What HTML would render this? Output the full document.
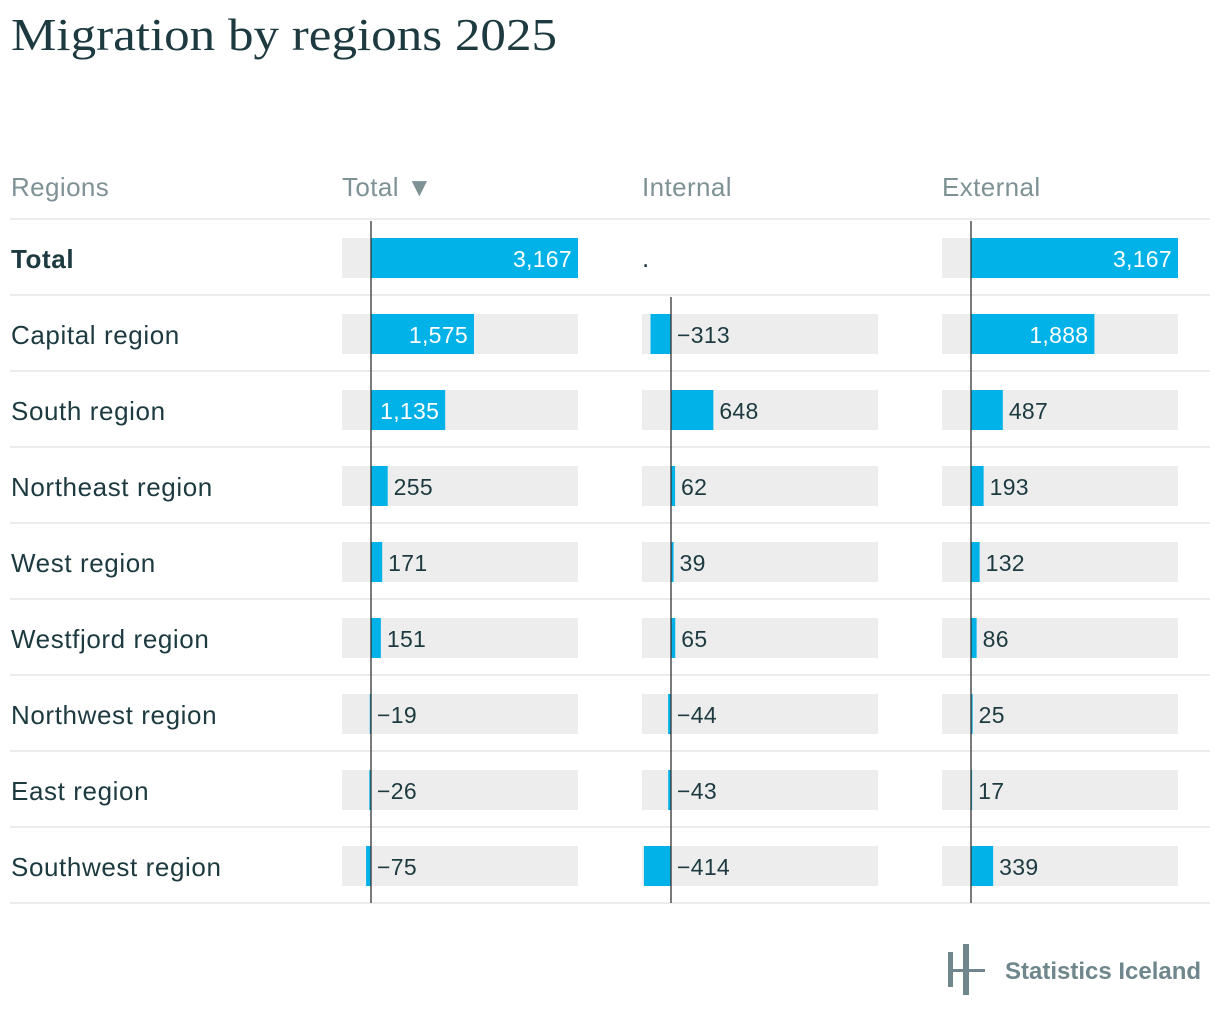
<!DOCTYPE html>
<html><head><meta charset="utf-8">
<style>
body{margin:0;width:1220px;height:1020px;background:#fff;font-family:"Liberation Sans",sans-serif;overflow:hidden;position:relative}
h1{position:absolute;left:11px;top:8px;margin:0;font-family:"Liberation Serif",serif;font-weight:normal;font-size:46px;color:#1d3a40;transform:scaleX(1.11);transform-origin:0 0;white-space:nowrap}
svg{position:absolute;left:0;top:0}
</style></head><body>
<h1>Migration by regions 2025</h1>
<svg id="c" width="1220" height="1020"></svg>
<script>
const regions=["Total","Capital region","South region","Northeast region","West region","Westfjord region","Northwest region","East region","Southwest region"];
const totalVals=[3167,1575,1135,255,171,151,-19,-26,-75];
const internalVals=[null,-313,648,62,39,65,-44,-43,-414];
const externalVals=[3167,1888,487,193,132,86,25,17,339];
const headers=["Regions","Total ▼","Internal","External"];
const NS="http://www.w3.org/2000/svg";
const svg=document.getElementById('c');
function mk(t,a,p){const e=document.createElementNS(NS,t);for(const k in a)e.setAttribute(k,a[k]);(p||svg).appendChild(e);return e;}
const scale=207/3167;
const cols=[{x:342,zero:371,vals:totalVals},{x:642,zero:671,vals:internalVals},{x:942,zero:971,vals:externalVals}];
const rowY=i=>219+76*i;
const fmt=v=>(v<0?"−":"")+Math.abs(v).toLocaleString("en-US");
[11,342,642,942].forEach((x,i)=>{
 const t=mk('text',{x:x,y:196,'font-size':26,fill:'#7e9296','letter-spacing':0.4});t.textContent=headers[i];
 
 
});
for(let i=0;i<=regions.length;i++){
 const l=mk('line',{x1:10,x2:1210,y1:rowY(i),y2:rowY(i),stroke:'#e6e6e6','stroke-width':1.5});
 
 
}
regions.forEach((r,i)=>{
 const cy=rowY(i)+38;
 const t=mk('text',{x:11,y:cy+11,'font-size':26,fill:'#1d3a40','font-weight':i==0?'bold':'normal','letter-spacing':0.6});
 t.textContent=r;
 
 
 cols.forEach((c,ci)=>{
  const v=c.vals[i];
  if(v===null){const d=mk('text',{x:c.x,y:cy+10,'font-size':26,fill:'#1d3a40'});d.textContent='.';
   return;}
  const bg=mk('rect',{x:c.x,y:cy-19,width:236,height:40,fill:'#ededed'});
  
  
  const w=Math.abs(v)*scale;
  const bx=v>=0?c.zero:c.zero-w;
  const b=mk('rect',{x:bx,y:cy-19,width:w,height:40,fill:'#00b2e8'});
  
  
  let lab;
  if(v>0&&w>60){lab=mk('text',{x:c.zero+w-6,y:cy+10,'font-size':23,fill:'#fff','text-anchor':'end','letter-spacing':0.3});}
  else{lab=mk('text',{x:(v>=0?c.zero+w:c.zero)+6,y:cy+10,'font-size':23,fill:'#1d3a40','letter-spacing':0.3});}
  lab.textContent=fmt(v);
  
  
 });
});
cols.forEach((c,ci)=>{
 const a=mk('line',{x1:c.zero,x2:c.zero,y1:ci==1?rowY(1)+2:rowY(0)+2,y2:rowY(regions.length),stroke:'#333','stroke-width':1.3});
 
 
});
const g=mk('g',{fill:'#6f878c'});


mk('rect',{x:948,y:952,width:5,height:35},g);
mk('rect',{x:963,y:944,width:6,height:51},g);
mk('rect',{x:948,y:969,width:37,height:3},g);
const lt=mk('text',{x:1005,y:979,'font-size':24,'font-weight':'bold',fill:'#6f878c'},g);
lt.textContent='Statistics Iceland';
</script>
</body></html>
